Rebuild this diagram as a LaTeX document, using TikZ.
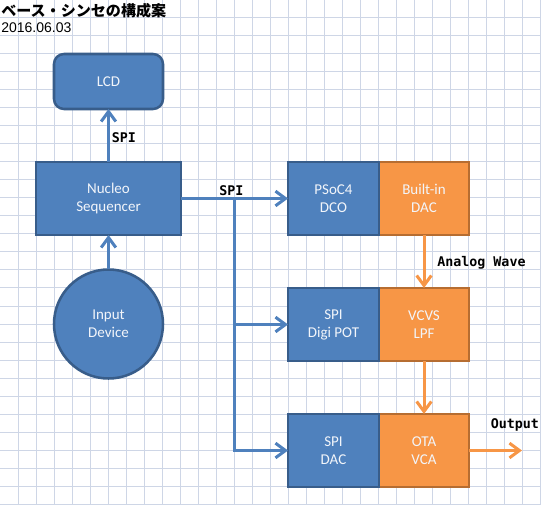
\documentclass[tikz,border=0pt]{standalone}
\usepackage{fontspec}
\setmainfont{Carlito}
\newfontfamily\labfont{DejaVu Sans Mono}
\newfontfamily\cjkfont{Noto Sans CJK JP}
\newfontfamily\datefont{Liberation Sans}
\usetikzlibrary{arrows.meta}
\definecolor{gridc}{RGB}{206,214,230}
\definecolor{bfill}{RGB}{79,129,189}
\definecolor{bline}{RGB}{56,93,138}
\definecolor{ofill}{RGB}{247,150,70}
\definecolor{oline}{RGB}{182,109,49}
\definecolor{btext}{RGB}{242,245,250}
\tikzset{
  blk/.style={draw=bline, fill=bfill, line width=1.9pt, text=btext, align=center,
    inner sep=0pt, outer sep=0pt, font=\fontsize{11.25}{13.5}\selectfont},
  oblk/.style={blk, draw=oline, fill=ofill},
  rowbox/.style={minimum width=68.25pt, minimum height=54.75pt},
  orowbox/.style={minimum width=67.5pt, minimum height=54.75pt},
  bcon/.style={draw=bfill, line width=2.25pt, -{Straight Barb[length=7.5pt,width=11pt]}},
  ocon/.style={bcon, draw=ofill},
  lab/.style={font=\labfont\bfseries\fontsize{10}{12}\selectfont, text=black, inner sep=0pt, anchor=west},
  gridline/.style={draw=gridc, line width=0.75pt}
}
\begin{document}
\begin{tikzpicture}[x=0.75pt,y=-0.75pt]
\useasboundingbox (0,0) rectangle (541,505);
\fill[white] (0,0) rectangle (541,505);
\foreach \i in {1,...,30} { \draw[gridline] (18*\i,0) -- (18*\i,505); }
\foreach \j in {1,...,28} { \draw[gridline] (0,18*\j) -- (541,18*\j); }

\node[anchor=west, inner sep=0pt, font=\cjkfont\bfseries\fontsize{11.3}{13}\selectfont] (title) at (1,10.5) {ベース・シンセの構成案};
\node[anchor=west, inner sep=0pt, font=\datefont\fontsize{10.5}{12}\selectfont] (date) at (1,27.5) {2016.06.03};

\node[blk, rounded corners=7.5pt, minimum width=81.75pt, minimum height=41.25pt] (lcd) at (108.5,81.5) {LCD};
\node[blk, minimum width=108.75pt, minimum height=54.75pt] (nucleo) at (108.5,198.5) {Nucleo\\Sequencer};
\node[blk, circle, minimum size=81.75pt] (input) at (108.5,324) {Input\\Device};

\node[oblk, orowbox] (bdac) at (424,198.5) {Built-in\\DAC};
\node[blk, rowbox] (psoc) at (333.5,198.5) {PSoC4\\DCO};
\node[oblk, orowbox] (vcvs) at (424,324.5) {VCVS\\LPF};
\node[blk, rowbox] (digi) at (333.5,324.5) {SPI\\Digi POT};
\node[oblk, orowbox] (ota) at (424,450.5) {OTA\\VCA};
\node[blk, rowbox] (spidac) at (333.5,450.5) {SPI\\DAC};

\coordinate (br) at (234,198.5);
\coordinate (outend) at (522,450.5);

\draw[bcon] (nucleo) -- (lcd);
\draw[bcon] (input) -- (nucleo);
\draw[bcon] (nucleo.east) -- (psoc.west);
\draw[bcon] (br) |- (digi.west);
\draw[bcon] (br) |- (spidac.west);
\draw[ocon] (bdac) -- (vcvs);
\draw[ocon] (vcvs) -- (ota);
\draw[ocon] (ota.east) -- (outend);

\node[lab] (l1) at (111.5,137.5) {SPI};
\node[lab] (l2) at (219,190.5) {SPI};
\node[lab] (l3) at (437,263) {Analog Wave};
\node[lab] (l4) at (490.5,425) {Output};
\end{tikzpicture}
\end{document}
